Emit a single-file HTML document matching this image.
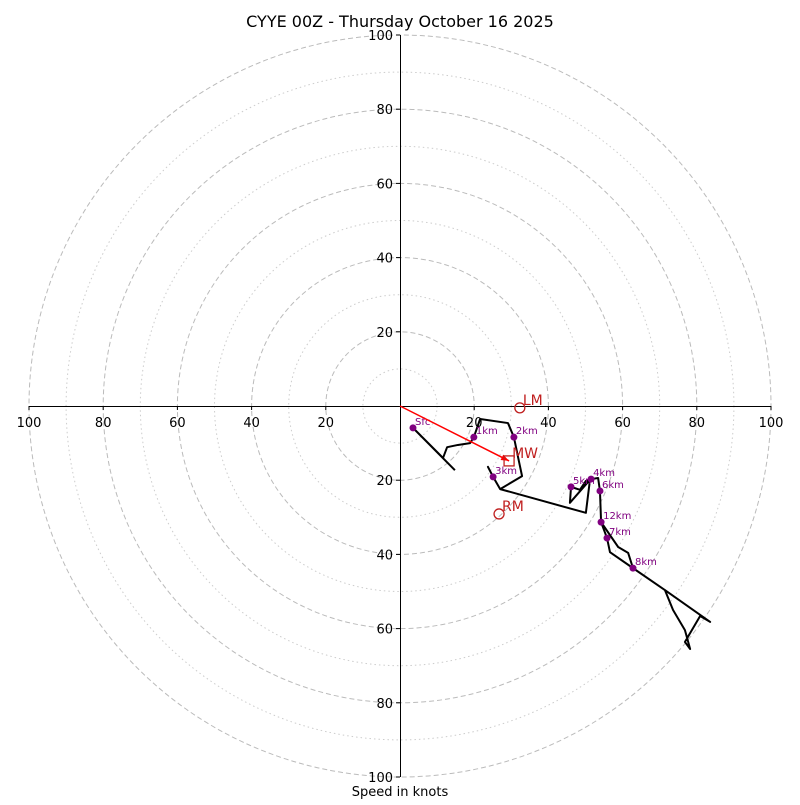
<!DOCTYPE html>
<html><head><meta charset="utf-8"><style>body{margin:0;background:#fff}svg{font-family:"DejaVu Sans","Liberation Sans",sans-serif}</style></head>
<body>
<svg id="chart" width="800" height="800" viewBox="0 0 800 800" xmlns="http://www.w3.org/2000/svg">
<text x="400" y="27" text-anchor="middle" font-size="16">CYYE 00Z - Thursday October 16 2025</text>
<text x="400" y="796" text-anchor="middle" font-size="13">Speed in knots</text>
<g id="rings"></g><g id="axes"></g><g id="series"></g><g id="marks"></g>
</svg>
<script>
const ringMajor = [20, 40, 60, 80, 100];
const ringMinor = [10, 30, 50, 70, 90];
const tickLabels = [20, 40, 60, 80, 100];
const pathU = [14.8, 3.5, 11.6, 12.7, 15.6, 18.9, 19.9, 21.6, 29.1, 30.7, 32.1, 32.9, 27.0, 25.1, 23.7, 25.1, 27.0, 50.1, 51.2, 45.8, 46.1, 48.5, 50.1, 51.5, 53.4, 53.9, 54.2, 55.8, 56.6, 62.8, 71.4, 73.6, 76.8, 78.2, 76.8, 80.9, 83.6, 71.4];
const pathV = [-17.3, -5.9, -14.0, -11.1, -10.5, -10.0, -8.4, -3.5, -4.6, -8.4, -15.1, -18.9, -22.4, -19.1, -16.4, -19.1, -22.4, -28.8, -19.9, -26.1, -21.8, -22.6, -20.2, -19.7, -19.4, -22.9, -31.3, -35.6, -39.4, -43.7, -49.6, -55.0, -60.4, -65.5, -63.6, -56.6, -58.2, -49.6];
const branchU = [54.2, 58.8, 61.5, 62.8];
const branchV = [-31.3, -38.0, -39.6, -43.7];
const levelNames = ["Sfc", "1km", "2km", "3km", "4km", "5km", "6km", "7km", "8km", "12km"];
const levelU = [3.5, 19.9, 30.7, 25.1, 51.5, 46.1, 53.9, 55.8, 62.8, 54.2];
const levelV = [-5.9, -8.4, -8.4, -19.1, -19.7, -21.8, -22.9, -35.6, -43.7, -31.3];
const motionNames = ["LM", "MW", "RM"];
const motionU = [32.3, 29.4, 26.7];
const motionV = [-0.5, -14.8, -29.1];

const NS = "http://www.w3.org/2000/svg";
const cx = 400, cy = 406, R = 371, maxS = 100;
const sx = u => cx + u / maxS * R;
const sy = v => cy - v / maxS * R;
function mk(parent, tag, attrs) { const e = document.createElementNS(NS, tag); for (const k in attrs) e.setAttribute(k, attrs[k]); document.getElementById(parent).appendChild(e); return e; }

ringMinor.forEach(r => { const c = mk("rings", "circle", {cx, cy, r: r / maxS * R, fill: "none", stroke: "#ccc", "stroke-width": 1, "stroke-dasharray": "1.5 3"});

 });
ringMajor.forEach(r => { const c = mk("rings", "circle", {cx, cy, r: r / maxS * R, fill: "none", stroke: "#bbb", "stroke-width": 1, "stroke-dasharray": "5 3"});

 });

let a = mk("axes", "line", {x1: sx(-maxS), y1: cy + 0.5, x2: sx(maxS), y2: cy + 0.5, stroke: "#000", "stroke-width": 1});


a = mk("axes", "line", {x1: cx + 0.5, y1: sy(maxS), x2: cx + 0.5, y2: sy(-maxS), stroke: "#000", "stroke-width": 1});


tickLabels.forEach(t => {
  [t, -t].forEach(s => {
    let tk = mk("axes", "line", {x1: sx(s), y1: cy, x2: sx(s), y2: cy + 4, stroke: "#000"});
    
    
    let tx = mk("axes", "text", {x: sx(s), y: cy + 21, "text-anchor": "middle", "font-size": 13});
    tx.textContent = t;
    
    
    tk = mk("axes", "line", {x1: cx - 4, y1: sy(s), x2: cx, y2: sy(s), stroke: "#000"});
    
    
    tx = mk("axes", "text", {x: cx - 7, y: sy(s) + 5, "text-anchor": "end", "font-size": 13});
    tx.textContent = t;
    
    
  });
});

let p = mk("series", "polyline", {points: pathU.map((u, i) => sx(u) + "," + sy(pathV[i])).join(" "), fill: "none", stroke: "#000", "stroke-width": 2, "stroke-linejoin": "round"});


p = mk("series", "polyline", {points: branchU.map((u, i) => sx(u) + "," + sy(branchV[i])).join(" "), fill: "none", stroke: "#000", "stroke-width": 2});



levelNames.forEach((n, i) => {
  const d = mk("series", "circle", {cx: sx(levelU[i]), cy: sy(levelV[i]), r: 3.5, fill: "purple"});
  
  
  const t = mk("series", "text", {x: sx(levelU[i]) + 2, y: sy(levelV[i]) - 3, "font-size": 10, fill: "purple"});
  t.textContent = n;
  
  
});

const mx = sx(motionU[1]), my = sy(motionV[1]);
const ang = Math.atan2(my - cy, mx - cx);
let ar = mk("marks", "line", {x1: cx, y1: cy, x2: mx, y2: my, stroke: "red", "stroke-width": 1.5});


const hx = mx - 8 * Math.cos(ang), hy = my - 8 * Math.sin(ang);
ar = mk("marks", "polygon", {points: `${mx},${my} ${hx - 3 * Math.sin(ang)},${hy + 3 * Math.cos(ang)} ${hx + 3 * Math.sin(ang)},${hy - 3 * Math.cos(ang)}`, fill: "red"});



motionNames.forEach((n, i) => {
  const x = sx(motionU[i]), y = sy(motionV[i]);
  let m;
  if (n === "MW") m = mk("marks", "rect", {x: x - 5, y: y - 5, width: 10, height: 10, fill: "none", stroke: "#c02020", "stroke-width": 1.3});
  else m = mk("marks", "circle", {cx: x, cy: y, r: 5, fill: "none", stroke: "#c02020", "stroke-width": 1.3});
  
  
  const t = mk("marks", "text", {x: x + 3, y: y - 3, "font-size": 14, fill: "#c02020"});
  t.textContent = n;
  
  
});
</script>
</body></html>
